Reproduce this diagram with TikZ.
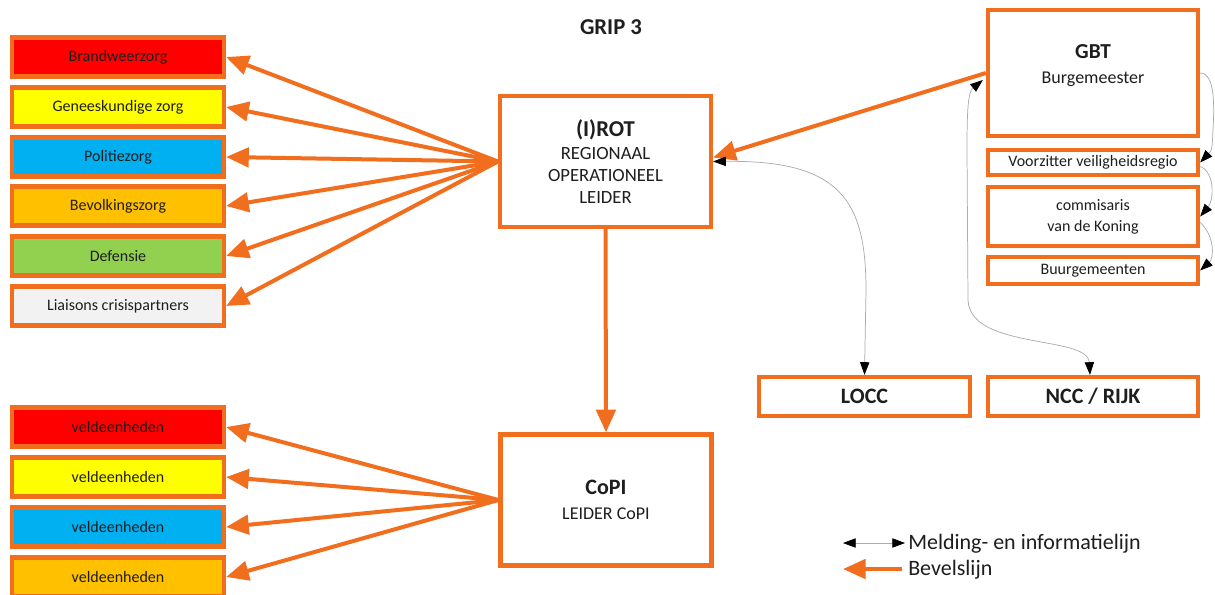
\documentclass[tikz,border=0pt]{standalone}
\usepackage{fontspec}
\setmainfont{Carlito}
\usetikzlibrary{arrows.meta,calc}
\definecolor{org}{RGB}{240,110,30}
\definecolor{cred}{RGB}{255,0,0}
\definecolor{cyel}{RGB}{255,255,0}
\definecolor{cblu}{RGB}{0,176,240}
\definecolor{cgol}{RGB}{255,192,0}
\definecolor{cgrn}{RGB}{146,208,80}
\definecolor{cgry}{RGB}{242,242,242}
\definecolor{txt}{RGB}{30,30,30}
\begin{document}
\begin{tikzpicture}[x=0.75pt,y=-0.75pt,
  box/.style={draw=org,line width=3.2pt,minimum width=159pt,minimum height=29.25pt,inner sep=0pt,font=\fontsize{12}{14}\selectfont,text=txt},
  bigbox/.style={draw=org,line width=3.2pt,fill=white,inner sep=0pt,align=center,text=txt},
  bevel/.style={draw=org,line width=3pt,-{Triangle[length=17pt,width=14.5pt]}},
  info/.style={draw=gray!65,line width=0.55pt,{Triangle[length=9.5pt,width=7pt,black]}-{Triangle[length=9.5pt,width=7pt,black]}},
  infoone/.style={draw=gray!65,line width=0.55pt,-{Triangle[length=9.5pt,width=7pt,black]}},
  legend/.style={inner sep=0pt,font=\fontsize{16.5}{19}\selectfont,text=txt}]
\useasboundingbox (0,0) rectangle (1215,594);
\clip (0,0) rectangle (1215,594);
\fill[white] (0,0) rectangle (1215,594);

\node[font=\fontsize{17}{20}\selectfont\bfseries,text=txt] (grip) at (611,27) {GRIP 3};

% left top boxes
\node[box,fill=cred] (a1) at (118,57) {Brandweerzorg};
\node[box,fill=cyel] (a2) at (118,107) {Geneeskundige zorg};
\node[box,fill=cblu] (a3) at (118,157) {Politiezorg};
\node[box,fill=cgol] (a4) at (118,206) {Bevolkingszorg};
\node[box,fill=cgrn] (a5) at (118,256) {Defensie};
\node[box,fill=cgry] (a6) at (118,306) {Liaisons crisispartners};

% left bottom boxes
\node[box,fill=cred] (v1) at (118,427) {veldeenheden};
\node[box,fill=cyel] (v2) at (118,477) {veldeenheden};
\node[box,fill=cblu] (v3) at (118,527) {veldeenheden};
\node[box,fill=cgol] (v4) at (118,577) {veldeenheden};

% ROT
\node[bigbox,minimum width=158.25pt,minimum height=98.25pt,font=\fontsize{14}{16.5}\selectfont] (rot) at (605.5,161.5)
  {{\fontsize{17}{19}\selectfont\bfseries (I)ROT}\\[1pt] REGIONAAL\\ OPERATIONEEL\\ LEIDER};

% CoPI
\node[bigbox,minimum width=158.25pt,minimum height=98.25pt,font=\fontsize{13.5}{16.5}\selectfont] (copi) at (606,500)
  {{\fontsize{16.5}{19}\selectfont\bfseries CoPI}\\[2pt] LEIDER CoPI};

% right side
\node[bigbox,minimum width=157.5pt,minimum height=94.5pt] (gbt) at (1093,73) {};
\node[inner sep=0pt,align=center,text=txt,font=\fontsize{13.5}{18.75}\selectfont] (gbtlabel) at (1093,66)
  {{\fontsize{16}{18.75}\selectfont\bfseries GBT}\\ Burgemeester};
\node[bigbox,minimum width=157.5pt,minimum height=18.75pt,font=\fontsize{12}{14}\selectfont] (vz) at (1093,162.5) {Voorzitter veiligheidsregio};
\node[bigbox,minimum width=157.5pt,minimum height=44.25pt,font=\fontsize{12}{15.75}\selectfont] (cdk) at (1093,216.5) {commisaris\\ van de Koning};
\node[bigbox,minimum width=157.5pt,minimum height=20.25pt,font=\fontsize{12}{14}\selectfont] (bg) at (1093,270.5) {Buurgemeenten};
\node[bigbox,minimum width=158.25pt,minimum height=29.25pt,font=\fontsize{16.5}{19}\selectfont\bfseries] (locc) at (864.5,396.5) {LOCC};
\node[bigbox,minimum width=157.5pt,minimum height=29.25pt,font=\fontsize{16.5}{19}\selectfont\bfseries] (ncc) at (1093,396.5) {NCC / RIJK};

% command lines
\foreach \n in {a1,a2,a3,a4,a5,a6} \draw[bevel] (rot.west) -- (\n.east);
\foreach \n in {v1,v2,v3,v4} \draw[bevel] (copi.west) -- (\n.east);
\draw[bevel] (rot.south) -- (copi.north);
\draw[bevel] (gbt.west) -- ($(rot.east)+(0,-4)$);

% information lines
\draw[info] (rot.east) .. controls (840,160) and (866,200) .. (866,290) -- (locc.north);
\draw[info] ($(gbt.west)+(-3,7)$) .. controls (968,92) and (967,110) .. (967,150) -- (968,300) .. controls (970,350) and (1088,335) .. ($(ncc.north)+(-3,0)$);
\draw[infoone] (gbt.east) .. controls (1216,73) and (1214,110) .. (1213,130) .. controls (1212,150) .. (vz.east);
\draw[infoone] ($(vz.east)+(0,4)$) .. controls (1215,172) and (1214,200) .. (cdk.east);
\draw[infoone] ($(cdk.east)+(0,6)$) .. controls (1215,236) and (1214,258) .. (bg.east);

% legend
\coordinate (m1) at (843,543);
\coordinate (m2) at (905,543);
\draw[info] (m1) -- (m2);
\node[legend,anchor=base west] (mt) at (908,549) {Melding- en informatielijn};
\coordinate (b1) at (902,569);
\coordinate (b2) at (843,569);
\draw[bevel] (b1) -- (b2);
\node[legend,anchor=base west] (bt) at (908,575) {Bevelslijn};
\end{tikzpicture}
\end{document}
